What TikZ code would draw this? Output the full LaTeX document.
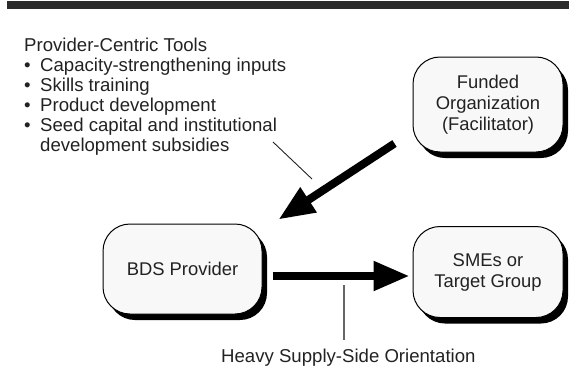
\documentclass[tikz,border=0pt]{standalone}
\usepackage{fontspec}
\setmainfont{Liberation Sans}
\usetikzlibrary{arrows.meta,shadows}
\definecolor{ink}{HTML}{222222}
\definecolor{barcol}{HTML}{2B2B2B}
\definecolor{boxfill}{HTML}{F8F8F8}
\tikzset{
  roundbox/.style={draw=black, line width=1pt, fill=boxfill, rounded corners=27pt,
    align=center, text=ink, font=\fontsize{18.4}{21}\selectfont,
    drop shadow={shadow xshift=5pt, shadow yshift=-6pt, fill=black, opacity=1}},
  listline/.style={anchor=base west, inner sep=0pt, text=ink, font=\fontsize{18.6}{20}\selectfont},
  bigarrow/.style={line width=8pt, -{Triangle[length=36pt,width=28pt]}},
  pointer/.style={line width=0.9pt, draw=ink},
}
\begin{document}
\begin{tikzpicture}[x=1pt,y=-1pt]
  \useasboundingbox (0,0) rectangle (569,388);
  % heading bar
  \fill[barcol] (7,1) rectangle (569,9);

  % tool list
  \node[listline] (title) at (24,51) {Provider-Centric Tools};
  \node[listline] (l1) at (24,71) {\makebox[16pt][l]{•}Capacity-strengthening inputs};
  \node[listline] (l2) at (24,91) {\makebox[16pt][l]{•}Skills training};
  \node[listline] (l3) at (24,111) {\makebox[16pt][l]{•}Product development};
  \node[listline] (l4) at (24,131) {\makebox[16pt][l]{•}Seed capital and institutional};
  \node[listline] (l5) at (40,151) {development subsidies};

  % boxes
  \node[roundbox, minimum width=150pt, minimum height=95pt] (fund) at (488,104.5)
    {Funded\\Organization\\(Facilitator)};
  \node[roundbox, minimum width=159pt, minimum height=90pt] (bds) at (182.5,269)
    {BDS Provider};
  \node[roundbox, minimum width=150pt, minimum height=91pt] (sme) at (488,272)
    {SMEs or\\Target Group};

  % facilitator acts on the provider
  \coordinate (d1) at ([shift={(-18,-9)}]fund.south west);
  \coordinate (d2) at ([shift={(16,-4)}]bds.north east);
  \draw[bigarrow] (d1) -- (d2);

  % pointer from the tool list to the arrow
  \coordinate (p1) at (273,142);
  \coordinate (p2) at (312,179);
  \draw[pointer] (p1) -- (p2);

  % provider supplies the target group
  \coordinate (h1) at ([shift={(10,7)}]bds.east);
  \coordinate (h2) at (h1 -| sme.west);
  \draw[bigarrow] (h1) -- ([xshift=-3pt]h2);

  % orientation label
  \coordinate (v1) at (344,285);
  \coordinate (v2) at (344,340);
  \draw[line width=1.2pt, draw=black!60] (v1) -- (v2);
  \node[listline] (orient) at (221,362) {Heavy Supply-Side Orientation};
\end{tikzpicture}
\end{document}
